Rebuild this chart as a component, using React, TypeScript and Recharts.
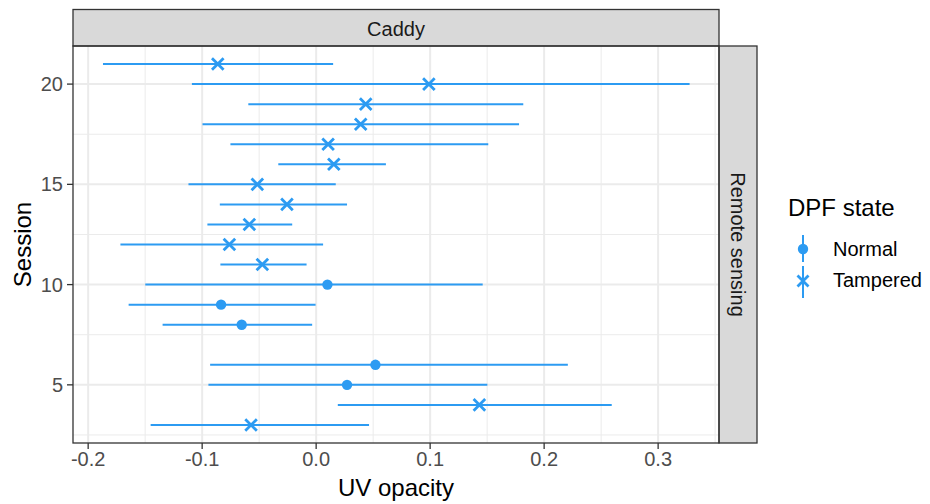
import {
  ErrorBar,
  ReferenceLine,
  Scatter,
  ScatterChart,
  XAxis,
  YAxis,
} from "recharts";

// one row per session: point estimate of UV opacity with lower/upper interval bounds
const sessions = [21, 20, 19, 18, 17, 16, 15, 14, 13, 12, 11, 10, 9, 8, 6, 5, 4, 3];
const opacity = [
  -0.0863, 0.0989, 0.0435, 0.0391, 0.0105, 0.0155, -0.0516, -0.0256, -0.0586, -0.0761, -0.0472,
  0.0099, -0.0834, -0.0653, 0.052, 0.0271, 0.1432, -0.0571,
];
const lower = [
  -0.187, -0.109, -0.0595, -0.0997, -0.0752, -0.0332, -0.112, -0.0845, -0.0954, -0.1717, -0.084,
  -0.1499, -0.1645, -0.1347, -0.093, -0.0945, 0.019, -0.1452,
];
const upper = [
  0.0149, 0.3276, 0.1817, 0.178, 0.151, 0.0612, 0.0172, 0.0271, -0.021, 0.0061, -0.0084, 0.1461,
  -0.0005, -0.0035, 0.2208, 0.1502, 0.2593, 0.0464,
];
const dpfState = [
  "Tampered", "Tampered", "Tampered", "Tampered", "Tampered", "Tampered", "Tampered", "Tampered",
  "Tampered", "Tampered", "Tampered", "Normal", "Normal", "Normal", "Normal", "Normal", "Tampered",
  "Tampered",
];

const xTicks = [-0.2, -0.1, 0, 0.1, 0.2, 0.3];
const xMinor = [-0.15, -0.05, 0.05, 0.15, 0.25, 0.35];
const yTicks = [5, 10, 15, 20];
const yMinor = [2.5, 7.5, 12.5, 17.5];

const BLUE = "#2c9bf2";
const GRID = "#ebebeb";
const FONT = "'Liberation Sans', Arial, sans-serif";

const rows = sessions.map((s, i) => ({
  session: s,
  opacity: opacity[i],
  err: [opacity[i] - lower[i], upper[i] - opacity[i]],
  state: dpfState[i],
}));
const normalRows = rows.filter((r) => r.state === "Normal");
const tamperedRows = rows.filter((r) => r.state === "Tampered");

const Dot = (p: any) => <circle cx={p.cx} cy={p.cy} r={5.2} fill={BLUE} />;

const Cross = (p: any) => {
  const s = 5.8;
  return (
    <path
      d={`M${p.cx - s},${p.cy - s}L${p.cx + s},${p.cy + s}M${p.cx - s},${p.cy + s}L${p.cx + s},${p.cy - s}`}
      stroke={BLUE}
      strokeWidth={2.8}
      fill="none"
    />
  );
};

// legend drawn beside the panel, ggplot style (glyph includes the interval line)
function StateLegend() {
  return (
    <svg width={150} height={115} style={{ position: "absolute", left: 780, top: 190 }}>
      <text x={8} y={26} fontSize={24} fill="#000" fontFamily={FONT}>
        DPF state
      </text>
      <line x1={23} x2={23} y1={45} y2={72} stroke={BLUE} strokeWidth={2} />
      <circle cx={23} cy={59} r={5.2} fill={BLUE} />
      <text x={53} y={66} fontSize={20} fill="#000" fontFamily={FONT}>
        Normal
      </text>
      <line x1={23} x2={23} y1={76} y2={108} stroke={BLUE} strokeWidth={2} />
      <path d="M17.5,85.5L28.5,96.5M17.5,96.5L28.5,85.5" stroke={BLUE} strokeWidth={2.8} />
      <text x={53} y={97} fontSize={20} fill="#000" fontFamily={FONT}>
        Tampered
      </text>
    </svg>
  );
}

export default function App() {
  const tick = { fill: "#4d4d4d", fontSize: 20, fontFamily: FONT };
  return (
    <div style={{ position: "absolute", left: 0, top: 0, width: 930, height: 504, background: "#fff" }}>
      <ScatterChart width={930} height={504} margin={{ top: 46, right: 211, bottom: 0, left: 0 }}>
        {yMinor.map((v) => (
          <ReferenceLine key={`ym${v}`} y={v} stroke={GRID} strokeWidth={1} />
        ))}
        {xMinor.map((v) => (
          <ReferenceLine key={`xm${v}`} x={v} stroke={GRID} strokeWidth={1} />
        ))}
        {yTicks.map((v) => (
          <ReferenceLine key={`y${v}`} y={v} stroke={GRID} strokeWidth={2} />
        ))}
        {xTicks.map((v) => (
          <ReferenceLine key={`x${v}`} x={v} stroke={GRID} strokeWidth={2} />
        ))}
        <XAxis
          type="number"
          dataKey="opacity"
          domain={[-0.2133, 0.3534]}
          allowDataOverflow
          ticks={xTicks}
          tickFormatter={(v: number) => v.toFixed(1)}
          tick={tick}
          tickSize={6}
          tickMargin={3}
          tickLine={{ stroke: "#333", strokeWidth: 1.3 }}
          axisLine={false}
          height={61}
          label={{
            value: "UV opacity",
            position: "insideBottom",
            offset: 8,
            style: { fontSize: 24, fill: "#000", fontFamily: FONT },
          }}
        />
        <YAxis
          type="number"
          dataKey="session"
          domain={[2.1, 21.9]}
          allowDataOverflow
          ticks={yTicks}
          tick={tick}
          tickSize={6}
          tickMargin={4}
          tickLine={{ stroke: "#333", strokeWidth: 1.3 }}
          axisLine={false}
          width={73}
          label={{
            value: "Session",
            angle: -90,
            position: "insideLeft",
            offset: 22,
            style: { fontSize: 24, fill: "#000", fontFamily: FONT, textAnchor: "middle" },
          }}
        />
        <Scatter data={normalRows} shape={Dot} isAnimationActive={false}>
          <ErrorBar dataKey="err" direction="x" width={0} stroke={BLUE} strokeWidth={2} />
        </Scatter>
        <Scatter data={tamperedRows} shape={Cross} isAnimationActive={false}>
          <ErrorBar dataKey="err" direction="x" width={0} stroke={BLUE} strokeWidth={2} />
        </Scatter>
      </ScatterChart>
      <StateLegend />
      {/* panel border and facet strips */}
      <svg
        width={930}
        height={504}
        style={{ position: "absolute", left: 0, top: 0, pointerEvents: "none" }}
      >
        <rect x={73} y={9.5} width={646} height={36.5} fill="#d9d9d9" stroke="#333" strokeWidth={1.3} />
        <text x={396} y={36} textAnchor="middle" fontSize={20} fill="#1a1a1a" fontFamily={FONT}>
          Caddy
        </text>
        <rect x={719} y={46} width={38} height={397} fill="#d9d9d9" stroke="#333" strokeWidth={1.3} />
        <text
          x={738}
          y={244.5}
          textAnchor="middle"
          dominantBaseline="central"
          fontSize={20}
          fill="#1a1a1a"
          fontFamily={FONT}
          transform="rotate(90 738 244.5)"
        >
          Remote sensing
        </text>
        <rect x={73} y={46} width={646} height={397} fill="none" stroke="#333" strokeWidth={1.3} />
      </svg>
    </div>
  );
}
